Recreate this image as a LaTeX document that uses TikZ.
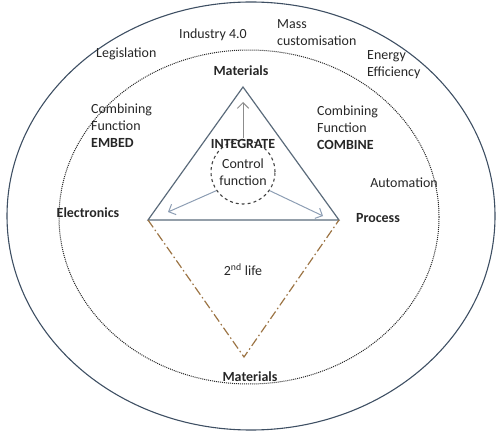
\documentclass[tikz,border=0pt]{standalone}
\usepackage{fontspec}
\setmainfont{Carlito}
\usetikzlibrary{arrows.meta}
\definecolor{ringcol}{HTML}{3E4F63}
\definecolor{tricol}{HTML}{5B6B7B}
\definecolor{arrcol}{HTML}{8C9DB3}
\definecolor{lifecol}{HTML}{9C7444}

\begin{document}
\begin{tikzpicture}[x=1bp,y=-1bp,>={Straight Barb[length=2mm]},
  font=\fontsize{14}{17}\selectfont,text=black!85,
  lbl/.style={align=left,inner sep=0pt,anchor=west},
  key/.style={font=\fontsize{14}{17}\selectfont\bfseries,inner sep=1pt},
  ctrlcirc/.style={circle,draw=black!75,dashed,line width=1.1pt,minimum size=64bp,inner sep=0pt,align=center}]
\useasboundingbox (0,0) rectangle (503,438);
% rings
\draw[ringcol,line width=1.1pt] (251,216) ellipse [x radius=244, y radius=214];
\draw[black!85,line width=1pt,densely dotted] (249,217) ellipse [x radius=190, y radius=167];
% outer drivers
\node[lbl] (legis) at (96,54) {Legislation};
\node (ind) at (213,35) {Industry 4.0};
\node[lbl] (mass) at (277,33) {Mass\\customisation};
\node[lbl] (energy) at (367,65) {Energy\\Efficiency};
\node (auto) at (404,183) {Automation};
% corners
\coordinate (apex) at (243,87);
\coordinate (left) at (148,220);
\coordinate (right) at (339,220);
\coordinate (bottom) at (244,357);
\node[key] (mattop) at (241,71) {Materials};
\node[key] (elec) at (88,213) {Electronics};
\node[key] (proc) at (378,218) {Process};
\node[key] (matbot) at (250,377) {Materials};
\draw[tricol,line width=1.2pt] (apex) -- (left) -- (right) -- cycle;
\draw[lifecol,line width=1.2pt,dash pattern=on 9pt off 3pt on 1.5pt off 3pt] (left) -- (bottom) -- (right);
% functions
\node[lbl] (embed) at (91,126) {Combining\\Function\\\textbf{EMBED}};
\node[lbl] (combine) at (317,128) {Combining\\Function\\\textbf{COMBINE}};
\node[ctrlcirc] (ctrl) at (243,172) {Control\\function};
\node[key] (integ) at (243,144) {INTEGRATE};
\node (life) at (243,270) {2\textsuperscript{nd} life};
\coordinate (tipup) at (243,102);
\coordinate (tipl) at (168,212);
\coordinate (tipr) at (323,216);
\draw[->,black!45,line width=1pt] (integ.north) -- (tipup);
\draw[->,arrcol,line width=1pt] (ctrl.215) -- (tipl);
\draw[->,arrcol,line width=1pt] (ctrl.325) -- (tipr);
\end{tikzpicture}
\end{document}
